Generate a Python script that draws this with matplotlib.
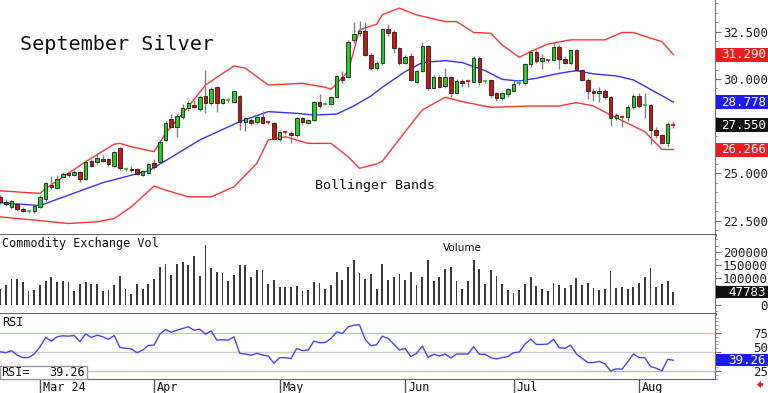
import matplotlib
matplotlib.use('Agg')
import matplotlib.pyplot as plt
import matplotlib.transforms as mtrans
from matplotlib.patches import Rectangle, FancyArrow
from matplotlib.ticker import MultipleLocator

# daily bars, Feb 21 .. Aug 9 2024 (index = trading day)
opens = [23.73, 23.50, 23.20, 23.37, 23.14, 23.00, 23.02, 23.23, 23.62, 24.38,
         24.21, 24.82, 25.00, 24.89, 25.09, 24.73, 25.65, 25.58, 25.74, 25.74,
         25.41, 26.33, 25.25, 25.25, 25.21, 24.91, 25.00, 25.56, 25.62, 26.77,
         27.88, 27.47, 28.00, 28.45, 28.62, 28.39, 29.10, 28.71, 29.56, 28.75,
         28.88, 28.80, 29.10, 27.74, 27.83, 27.74, 27.97, 27.71, 27.65, 26.80,
         27.19, 27.16, 27.03, 27.92, 27.69, 27.83, 28.80, 28.69, 28.67, 29.06,
         30.12, 30.12, 32.07, 32.42, 32.54, 31.27, 30.60, 30.83, 32.63, 32.51,
         31.63, 30.83, 31.22, 29.86, 30.42, 31.75, 29.51, 30.12, 29.63, 30.09,
         29.24, 29.91, 29.90, 29.86, 31.13, 29.86, 29.93, 29.24, 28.98, 29.19,
         29.38, 29.75, 29.77, 30.80, 31.45, 30.97, 31.02, 31.00, 31.71, 31.04,
         30.83, 31.54, 30.48, 29.95, 29.38, 29.28, 29.38, 29.03, 27.92, 28.02,
         28.00, 28.50, 29.12, 28.60, 28.62, 27.30, 27.03, 26.63, 27.58]
closes = [23.50, 23.37, 23.52, 23.09, 23.02, 23.03, 23.27, 23.76, 24.47, 24.26,
          24.73, 24.96, 24.89, 25.09, 24.68, 25.62, 25.41, 25.80, 25.67, 25.49,
          26.11, 25.27, 25.27, 25.18, 24.96, 25.14, 25.49, 25.35, 26.68, 27.65,
          27.47, 28.04, 28.48, 28.75, 28.53, 29.06, 28.71, 29.45, 28.75, 28.92,
          28.90, 29.36, 27.74, 27.92, 27.65, 28.00, 27.69, 27.69, 26.80, 27.21,
          27.17, 27.03, 27.92, 27.74, 27.83, 28.80, 28.57, 28.71, 29.06, 30.16,
          29.95, 31.98, 32.37, 32.54, 31.27, 30.57, 30.83, 32.63, 32.42, 31.63,
          30.83, 31.18, 29.95, 30.42, 31.75, 29.51, 30.12, 29.56, 30.09, 29.24,
          29.91, 29.81, 29.89, 31.10, 29.82, 29.88, 29.15, 28.98, 29.24, 29.45,
          29.72, 29.77, 30.80, 31.45, 30.97, 31.10, 31.00, 31.71, 31.04, 30.83,
          31.54, 30.48, 29.95, 29.38, 29.24, 29.38, 29.03, 27.92, 28.09, 28.00,
          28.50, 29.12, 28.57, 28.62, 27.30, 27.03, 26.63, 27.61, 27.55]
highs = [23.85, 23.62, 23.60, 23.45, 23.20, 23.10, 23.38, 23.85, 24.55, 24.85,
         24.90, 25.05, 25.08, 25.20, 25.15, 25.70, 25.75, 26.10, 25.95, 25.80,
         26.20, 26.40, 25.35, 25.40, 25.30, 25.20, 25.55, 25.75, 26.75, 27.75,
         28.15, 28.15, 28.65, 28.85, 28.90, 29.15, 30.48, 29.60, 29.65, 29.00,
         28.98, 29.40, 29.15, 28.00, 27.95, 28.05, 28.30, 27.78, 27.70, 27.25,
         27.25, 27.22, 27.98, 28.00, 27.90, 28.85, 29.20, 28.80, 29.12, 30.22,
         30.40, 32.05, 33.00, 33.05, 33.00, 31.35, 30.95, 32.70, 32.90, 32.60,
         31.70, 31.28, 31.35, 30.50, 31.95, 31.80, 30.20, 30.20, 30.60, 30.15,
         29.98, 29.98, 29.98, 31.20, 31.20, 29.95, 30.00, 29.30, 29.30, 29.50,
         29.95, 29.85, 30.85, 31.55, 31.55, 31.30, 31.08, 31.98, 31.78, 31.20,
         31.60, 31.60, 30.55, 30.05, 29.50, 29.55, 29.45, 29.10, 28.20, 28.10,
         28.60, 29.20, 29.25, 29.28, 28.70, 27.45, 27.10, 27.70, 27.75]
lows = [23.40, 23.30, 23.10, 23.00, 22.95, 22.88, 22.90, 23.15, 23.55, 24.15,
        24.15, 24.75, 24.80, 24.85, 24.55, 24.65, 25.35, 25.50, 25.60, 25.40,
        25.35, 25.20, 25.15, 25.10, 24.90, 24.85, 24.95, 25.25, 25.55, 26.70,
        27.40, 26.95, 27.90, 28.30, 28.45, 28.30, 28.18, 28.60, 28.25, 28.65,
        28.80, 28.75, 27.30, 27.25, 27.55, 27.60, 27.60, 27.62, 26.75, 26.70,
        27.10, 26.60, 26.95, 27.60, 27.60, 27.75, 28.45, 28.62, 28.60, 29.00,
        29.80, 30.05, 31.90, 32.30, 31.20, 30.45, 30.50, 30.75, 32.30, 31.40,
        30.75, 30.78, 29.90, 29.80, 30.35, 29.40, 29.45, 29.50, 29.50, 29.05,
        29.20, 29.60, 29.55, 29.80, 29.70, 29.80, 28.98, 28.85, 28.90, 29.05,
        29.30, 29.70, 29.70, 30.70, 30.85, 30.55, 30.92, 30.95, 30.55, 30.78,
        30.75, 30.40, 29.88, 28.95, 28.85, 28.80, 28.95, 27.50, 27.85, 27.45,
        27.80, 28.40, 28.45, 27.92, 26.55, 26.85, 26.59, 26.41, 27.40]
volume = [60000, 72800, 95700, 98300, 85500, 49800, 56200, 72800, 89400, 104700,
          85500, 89400, 85500, 51100, 79200, 84300, 76600, 76600, 49800, 53700,
          72800, 107200, 60000, 40900, 76600, 60000, 76600, 98300, 142900, 155700,
          113600, 155700, 160800, 150600, 183700, 108500, 225800, 140400, 123800, 121200,
          89400, 111000, 149300, 150600, 104700, 130200, 130200, 76600, 91900, 66400,
          66400, 66400, 69000, 51100, 53700, 85500, 81700, 58800, 75300, 122500,
          91900, 142900, 168400, 120000, 98300, 114900, 57500, 155600, 94400, 104400,
          117400, 94400, 122400, 75300, 104400, 168300, 88000, 104400, 135000, 145300,
          91800, 60000, 91800, 170900, 136500, 77600, 132700, 109700, 79000, 56100,
          45900, 56100, 79000, 107100, 71500, 58500, 53500, 81600, 73900, 62400,
          73900, 102000, 73900, 81600, 63800, 56100, 58700, 127500, 63800, 68800,
          58700, 66300, 84100, 107100, 137700, 68800, 77600, 88000, 47783]
rsi = [50.4, 49.1, 51.7, 46.1, 42.7, 42.7, 47.4, 56.9, 69.0, 64.2,
       69.9, 71.2, 70.7, 71.6, 63.4, 73.7, 69.0, 72.0, 69.9, 66.4,
       71.6, 56.0, 54.8, 54.3, 49.1, 52.6, 58.6, 59.1, 73.3, 79.4,
       75.9, 78.5, 80.7, 82.8, 78.5, 79.8, 73.3, 77.6, 65.5, 66.0,
       65.5, 69.9, 48.3, 47.4, 45.7, 48.3, 46.1, 44.8, 35.3, 42.7,
       42.7, 41.4, 54.8, 51.7, 52.6, 64.2, 62.1, 62.5, 67.7, 76.3,
       74.2, 82.8, 85.0, 85.4, 66.4, 58.2, 59.5, 70.7, 67.7, 60.4,
       52.6, 54.8, 44.0, 48.3, 57.8, 43.1, 47.0, 44.8, 47.4, 42.2,
       47.4, 47.4, 47.4, 56.9, 47.0, 47.0, 42.7, 41.0, 42.7, 44.0,
       49.1, 50.0, 60.4, 66.8, 59.9, 59.9, 60.4, 66.8, 55.6, 54.8,
       59.1, 47.4, 41.8, 36.2, 36.2, 37.9, 34.5, 25.4, 28.0, 27.6,
       37.1, 47.4, 42.7, 42.7, 31.0, 28.9, 25.4, 40.5, 39.26]

# Bollinger band lines at these bar positions
upper_x = [0, 7, 8, 15, 20, 21, 23, 27, 29, 33, 36, 41, 43, 47, 53, 57, 58, 61, 63,
           66, 67, 70, 73, 78, 80, 83, 86, 88, 91, 93, 96, 100, 106, 109, 111, 114, 116, 118]
upper_y = [24.08, 23.94, 24.20, 25.62, 26.55, 26.59, 26.41, 26.15, 27.12, 28.53, 29.68,
           30.69, 30.57, 29.68, 29.77, 29.56, 29.45, 30.39, 32.60, 32.90, 33.40, 33.75,
           33.39, 33.04, 33.04, 32.46, 32.42, 31.80, 31.15, 31.45, 31.85, 32.07, 32.07,
           32.46, 32.46, 32.16, 31.98, 31.29]
mid_x = [0, 7, 12, 18, 26, 29, 35, 42, 47, 52, 55, 59, 62, 65, 67, 71, 74, 78, 81,
         85, 88, 91, 94, 98, 101, 104, 108, 111, 114, 118]
mid_y = [23.45, 23.30, 23.85, 24.51, 25.14, 25.67, 26.77, 27.74, 28.27, 28.18, 28.09,
         28.14, 28.57, 29.10, 29.56, 30.39, 30.87, 30.97, 30.87, 30.44, 29.98, 29.89,
         30.04, 30.30, 30.44, 30.27, 30.16, 29.95, 29.45, 28.778]
lower_x = [0, 6, 12, 17, 20, 23, 27, 29, 33, 37, 41, 45, 47, 50, 54, 58, 61, 63, 66,
           67, 71, 74, 78, 81, 86, 93, 98, 101, 104, 107, 110, 113, 116, 118]
lower_y = [22.70, 22.53, 22.35, 22.44, 22.61, 23.23, 24.33, 24.12, 23.76, 23.76, 24.29,
           25.53, 26.77, 26.94, 26.59, 26.59, 25.88, 25.27, 25.50, 25.65, 27.21, 28.36,
           29.03, 28.80, 28.50, 28.57, 28.57, 28.75, 28.57, 28.09, 27.65, 27.21, 26.27,
           26.266]

month_pos = [7, 27, 49, 71, 90, 112]
month_labels = ['Mar 24', 'Apr', 'May', 'Jun', 'Jul', 'Aug']
price_ticks = [22.5, 25.0, 27.5, 30.0, 32.5]
price_labels = ['22.500', '25.000', '', '30.000', '32.500']  # 27.500 sits under the last-price tag
vol_ticks = [0, 100000, 150000, 200000]
rsi_ticks = [25, 50, 75]

last_price = 27.550
last_upper = 31.290
last_mid = 28.778
last_lower = 26.266
last_vol = 47783
last_rsi = 39.26

plt.rcParams['font.family'] = ['DejaVu Sans Mono']

W, H = 768, 393
fig = plt.figure(figsize=(W / 100, H / 100), dpi=100)


def px_axes(x0, y0, x1, y1):
    return fig.add_axes([x0 / W, 1 - y1 / H, (x1 - x0) / W, (y1 - y0) / H])


ax_p = px_axes(0, 0, 715, 235)
ax_v = px_axes(0, 235, 715, 314)
ax_r = px_axes(0, 314, 715, 379)

xlim = (-0.01, 125.3)
for ax in (ax_p, ax_v, ax_r):
    ax.set_xlim(*xlim)
    ax.spines['left'].set_visible(False)
    ax.spines['top'].set_visible(False)
    ax.spines['right'].set_color('#777777')
    ax.yaxis.set_ticks_position('right')
    ax.tick_params(axis='y', which='both', labelsize=9, colors='#222222',
                   direction='out', pad=34)
    ax.tick_params(axis='y', which='major', length=4, color='#777777')
    ax.tick_params(axis='y', which='minor', length=2, color='#999999')

# ---- price panel ----
ax_p.set_ylim(21.74, 34.18)
ax_p.set_xticks([])
ax_p.spines['bottom'].set_color('#333333')
ax_p.spines['bottom'].set_linewidth(1.8)
ax_p.set_yticks(price_ticks)
ax_p.set_yticklabels(price_labels, ha='right')
ax_p.yaxis.set_minor_locator(MultipleLocator(0.5))

x = list(range(len(closes)))
ax_p.vlines(x, lows, highs, color='#808080', lw=1, zorder=2)
for i in x:
    o, c = opens[i], closes[i]
    col = '#22cc22' if c >= o else '#cc1111'
    if abs(c - o) < 0.035:
        ax_p.hlines((o + c) / 2, i - 0.35, i + 0.35, color=col, lw=1.3, zorder=3)
    else:
        ax_p.bar(i, c - o, bottom=o, width=0.62, color=col, edgecolor='#222222',
                 lw=0.6, zorder=3)

ax_p.plot(upper_x, upper_y, color='#ff3333', lw=1, zorder=1)
ax_p.plot(lower_x, lower_y, color='#ff3333', lw=1, zorder=1)
ax_p.plot(mid_x, mid_y, color='#3333ff', lw=1, zorder=1)

ax_p.text(20 / 715, 1 - 45 / 235, 'September Silver', transform=ax_p.transAxes,
          fontsize=14.5, va='center', ha='left', color='#111111')
ax_p.text(315 / 715, 1 - 186 / 235, 'Bollinger Bands', transform=ax_p.transAxes,
          fontsize=9.5, va='center', ha='left', color='#111111')

# ---- volume panel ----
ax_v.set_ylim(-36300, 265800)
ax_v.set_xticks([])
ax_v.spines['bottom'].set_color('#333333')
ax_v.spines['bottom'].set_linewidth(1.8)
ax_v.set_yticks(vol_ticks)
ax_v.set_yticklabels([str(t) for t in vol_ticks], ha='right')
ax_v.yaxis.set_minor_locator(MultipleLocator(25000))
ax_v.bar(x, volume, width=0.32, color='#3a3a3a', zorder=2)
ax_v.text(2 / 715, 0.97, 'Commodity Exchange Vol', transform=ax_v.transAxes,
          fontsize=8.5, va='top', ha='left', color='#111111')
ax_v.text(443 / 715, 1 - 13 / 79, 'Volume', transform=ax_v.transAxes,
          fontsize=7.5, va='center', ha='left', color='#111111', family='DejaVu Sans')

# ---- RSI panel ----
ax_r.set_ylim(14.8, 99.6)
ax_r.spines['bottom'].set_color('#666666')
ax_r.set_yticks(rsi_ticks)
ax_r.set_yticklabels([str(t) for t in rsi_ticks], ha='right')
ax_r.get_yticklabels()[1].set_va('baseline')
ax_r.yaxis.set_minor_locator(MultipleLocator(5))
ax_r.axhline(75, color='#f5b5b5', lw=1, zorder=1)
ax_r.axhline(50, color='#cccccc', lw=1, zorder=1)
ax_r.axhline(25, color='#b5b5f0', lw=1, zorder=1)
ax_r.plot(x, rsi, color='#4444ff', lw=1, zorder=2)
ax_r.text(2 / 715, 1 - 9 / 65, 'RSI', transform=ax_r.transAxes,
          fontsize=8.5, va='center', ha='left', color='#111111')

ax_r.set_xticks(month_pos)
ax_r.set_xticklabels([])
ax_r.tick_params(axis='x', length=10, width=1, color='#555555', direction='out')
for pos, lab in zip(month_pos, month_labels):
    ax_r.annotate(lab, xy=(pos, 0), xycoords=('data', 'axes fraction'),
                  xytext=(2, -1.5), textcoords='offset points',
                  fontsize=8.5, va='top', ha='left', color='#111111')

# RSI readout box
fig.add_artist(Rectangle((0, 1 - 379 / H), 87 / W, 13 / H, transform=fig.transFigure,
                         fc='white', ec='#999999', lw=1, zorder=5))
fig.text(1 / W, 1 - 372.5 / H, 'RSI=', fontsize=8.5, va='center', ha='left',
         color='#111111', zorder=6)
fig.text(85 / W, 1 - 372.5 / H, '%.2f' % last_rsi, fontsize=8.5, va='center',
         ha='right', color='#111111', zorder=6)


# value tags on the right scale
def tag(ax, y, text, fc, h_px=14):
    y0, y1 = ax.get_ylim()
    ax_h = ax.get_position().height * H
    dh = (y1 - y0) / ax_h * h_px
    tr = mtrans.blended_transform_factory(fig.transFigure, ax.transData)
    fig.add_artist(Rectangle((716 / W, y - dh / 2), 52 / W, dh, transform=tr,
                             fc=fc, ec='none', zorder=5))
    fig.text(766 / W, y, text, transform=tr, ha='right', va='center',
             color='white', fontsize=9, zorder=6)


tag(ax_p, last_upper, '%.3f' % last_upper, '#ee1c1c')
tag(ax_p, last_mid, '%.3f' % last_mid, '#1c1cee')
tag(ax_p, last_price, '%.3f' % last_price, '#111111')
tag(ax_p, last_lower, '%.3f' % last_lower, '#ee1c1c')
tag(ax_v, last_vol, str(last_vol), '#111111', h_px=12)
tag(ax_r, last_rsi, '%.2f' % last_rsi, '#1c1cee', h_px=12)

# little red arrow bottom right
fig.add_artist(FancyArrow(7.63, 0.085, -0.06, 0, width=0.025, head_width=0.07,
                          head_length=0.04, length_includes_head=True,
                          transform=fig.dpi_scale_trans, color='#ee1111', lw=0))

fig.savefig('out.png', dpi=100)
